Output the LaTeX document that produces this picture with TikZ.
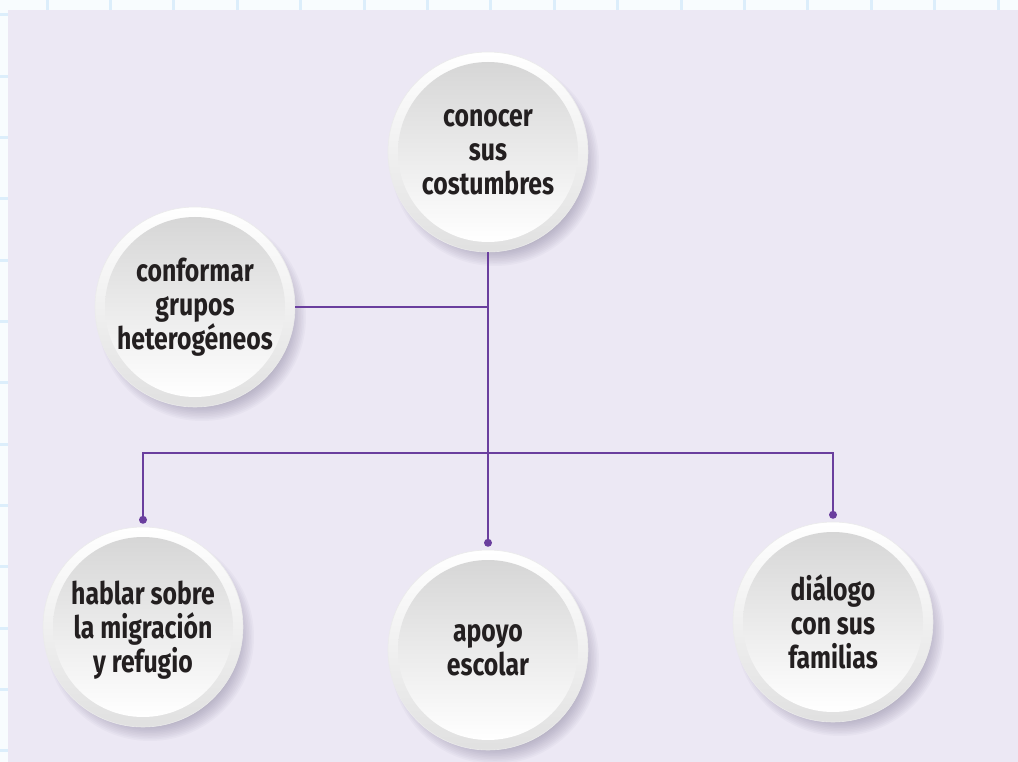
\documentclass[tikz,border=0pt]{standalone}
\usepackage{fontspec}
\newfontfamily\lbl{Fira Sans}[FakeStretch=0.8]
\definecolor{panel}{HTML}{ECE8F4}
\definecolor{gridc}{HTML}{DCEEFB}
\definecolor{outbg}{HTML}{F8FCFE}
\definecolor{conn}{HTML}{6A3E9E}
\definecolor{ink}{HTML}{231F20}
\definecolor{shad}{HTML}{6E6886}
\newcommand\bubbg[2]{%
  \foreach \k in {0,...,9} \fill[shad, opacity=0.045] (#1+7,#2+10) circle ({104pt-\k*1.6pt});
  \shade[top color=white, bottom color=black!12, draw=black!8, line width=0.6pt] (#1,#2) circle (100pt);
  \shade[top color=black!16, middle color=black!4, bottom color=white] (#1,#2) circle (90pt);
}
\begin{document}
\begin{tikzpicture}[x=1pt,y=-1pt,
  bubble/.style={circle, minimum size=200pt, inner sep=0pt, align=center, text=ink,
    font=\lbl\bfseries\fontsize{31}{34}\selectfont},
  link/.style={draw=conn, line width=2pt},
  joint/.style={circle, fill=conn, inner sep=0pt, minimum size=8pt}]
\useasboundingbox (0,0) rectangle (1018,762);
\fill[outbg] (0,0) rectangle (1018,762);
\foreach \i in {0,...,15} \draw[gridc, line width=3pt] (47+\i*63.4,0) -- (47+\i*63.4,762);
\foreach \j in {0,...,12} \draw[gridc, line width=3pt] (0,15+\j*61.3) -- (1018,15+\j*61.3);
\fill[panel] (8,10) rectangle (1018,762);

\bubbg{488}{152}
\bubbg{195}{307}
\bubbg{143}{627}
\bubbg{488}{650}
\bubbg{833}{622}

\node[bubble] (cos) at (488,152) {conocer\\sus\\costumbres};
\node[bubble] (gru) at (195,307) {conformar\\grupos\\heterogéneos};
\node[bubble] (hab) at (143,630) {hablar sobre\\la migración\\y refugio};
\node[bubble] (apo) at (488,650) {apoyo\\escolar};
\node[bubble] (dia) at (833,622) {diálogo\\con sus\\familias};

\node[joint] (jm) at ([yshift=7pt]apo.north) {};
\node[joint] (jl) at ([yshift=10pt]hab.north) {};
\node[joint] (jr) at ([yshift=7pt]dia.north) {};
\coordinate (bar) at (488,453);

\draw[link] (cos.south) -- (jm.center);
\draw[link] (gru.east) -- (gru.east -| cos.south);
\draw[link] (jl.center) -- (jl.center |- bar) -- (jr.center |- bar) -- (jr.center);
\end{tikzpicture}
\end{document}
